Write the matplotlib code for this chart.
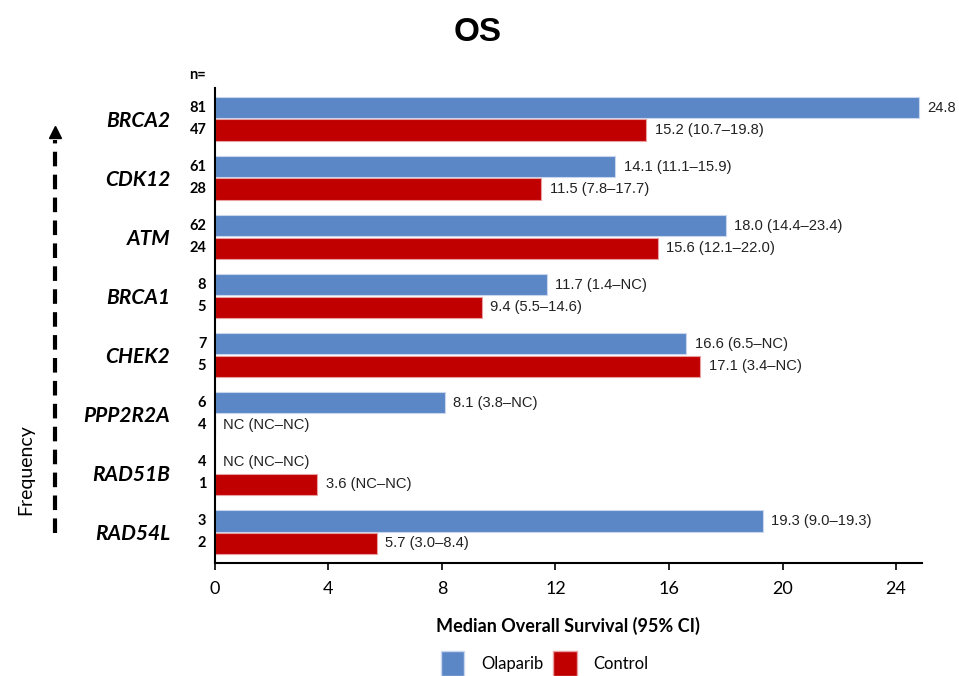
import numpy as np
import matplotlib
matplotlib.use("Agg")
import matplotlib.pyplot as plt
from matplotlib.lines import Line2D
from matplotlib.patches import Patch

genes = ["BRCA2", "CDK12", "ATM", "BRCA1", "CHEK2", "PPP2R2A", "RAD51B", "RAD54L"]
n_olaparib = [81, 61, 62, 8, 7, 6, 4, 3]
n_control = [47, 28, 24, 5, 5, 4, 1, 2]
# NaN = not calculable (NC)
os_olaparib = [24.8, 14.1, 18.0, 11.7, 16.6, 8.1, np.nan, 19.3]
os_control = [15.2, 11.5, 15.6, 9.4, 17.1, np.nan, 3.6, 5.7]
lab_olaparib = ["24.8", "14.1 (11.1\u201315.9)", "18.0 (14.4\u201323.4)", "11.7 (1.4\u2013NC)",
                "16.6 (6.5\u2013NC)", "8.1 (3.8\u2013NC)", "NC (NC\u2013NC)", "19.3 (9.0\u201319.3)"]
lab_control = ["15.2 (10.7\u201319.8)", "11.5 (7.8\u201317.7)", "15.6 (12.1\u201322.0)", "9.4 (5.5\u201314.6)",
               "17.1 (3.4\u2013NC)", "NC (NC\u2013NC)", "3.6 (NC\u2013NC)", "5.7 (3.0\u20138.4)"]
xticks = [0, 4, 8, 12, 16, 20, 24]

blue = "#5B87C6"
red = "#C00000"
lab_font = "Liberation Sans"
axis_font = "Lato"

fig = plt.figure(figsize=(9.59, 6.76), dpi=100)
ax = fig.add_axes([0.224, 0.167, 0.737, 0.703])

y = np.arange(len(genes))
off = 0.19
h = 0.36
ax.barh(y - off, np.nan_to_num(os_olaparib), height=h, color=blue, edgecolor="#c9d7ee", linewidth=0.8)
ax.barh(y + off, np.nan_to_num(os_control), height=h, color=red, edgecolor="#e8a0a0", linewidth=0.8)

for i in range(len(genes)):
    for val, lab, yy in ((os_olaparib[i], lab_olaparib[i], y[i] - off),
                         (os_control[i], lab_control[i], y[i] + off)):
        xpos = 0.3 if np.isnan(val) else val + 0.3
        ax.text(xpos, yy, lab, va="center", ha="left", fontsize=10.6,
                family=lab_font, color="#222222")
    ax.text(-0.3, y[i] - off, str(n_olaparib[i]), va="center", ha="right",
            fontsize=10.5, fontweight="bold", family=axis_font)
    ax.text(-0.3, y[i] + off, str(n_control[i]), va="center", ha="right",
            fontsize=10.5, fontweight="bold", family=axis_font)
ax.text(-0.3, -0.75, "n=", va="center", ha="right", fontsize=10.5,
        fontweight="bold", family=axis_font, clip_on=False)

ax.set_ylim(len(genes) - 0.475, -0.525)
ax.set_xlim(0, 24.9)
ax.set_yticks(y)
ax.set_yticklabels(genes, fontsize=15, fontweight="bold", style="italic", family=axis_font)
ax.tick_params(axis="y", length=0, pad=32)
ax.set_xticks(xticks)
ax.set_xticklabels([str(t) for t in xticks], fontsize=13, family=axis_font)
ax.tick_params(axis="x", length=5, width=1.2, pad=8)
for s in ("top", "right"):
    ax.spines[s].set_visible(False)
ax.spines["left"].set_linewidth(1.5)
ax.spines["bottom"].set_linewidth(1.5)
ax.set_xlabel("Median Overall Survival (95% CI)", fontsize=13, fontweight="bold",
              family=axis_font, labelpad=14)

fig.text(0.498, 0.952, "OS", ha="center", va="center", fontsize=24, fontweight="bold",
         family="Liberation Sans")

# frequency arrow
fig.add_artist(Line2D([0.057, 0.057], [1 - 533 / 676, 1 - 140 / 676], transform=fig.transFigure,
                      color="black", linewidth=3, linestyle=(0, (3.5, 2))))
fig.add_artist(Line2D([0.057], [1 - 132 / 676], transform=fig.transFigure, marker="^",
                      markersize=9, color="black", linestyle="none"))
fig.text(0.027, 1 - 470 / 676, "Frequency", rotation=90, ha="center", va="center",
         fontsize=14, family=axis_font)

handles = [Patch(facecolor=blue, edgecolor="#c9d7ee"), Patch(facecolor=red, edgecolor="#e8a0a0")]
fig.legend(handles, ["Olaparib", "Control"], loc="center", bbox_to_anchor=(0.568, 0.018),
           ncol=2, frameon=False, handlelength=1.4, handleheight=1.9, handletextpad=1.0,
           columnspacing=0.6, prop={"family": axis_font, "size": 12})

fig.savefig("out.png", dpi=100)
